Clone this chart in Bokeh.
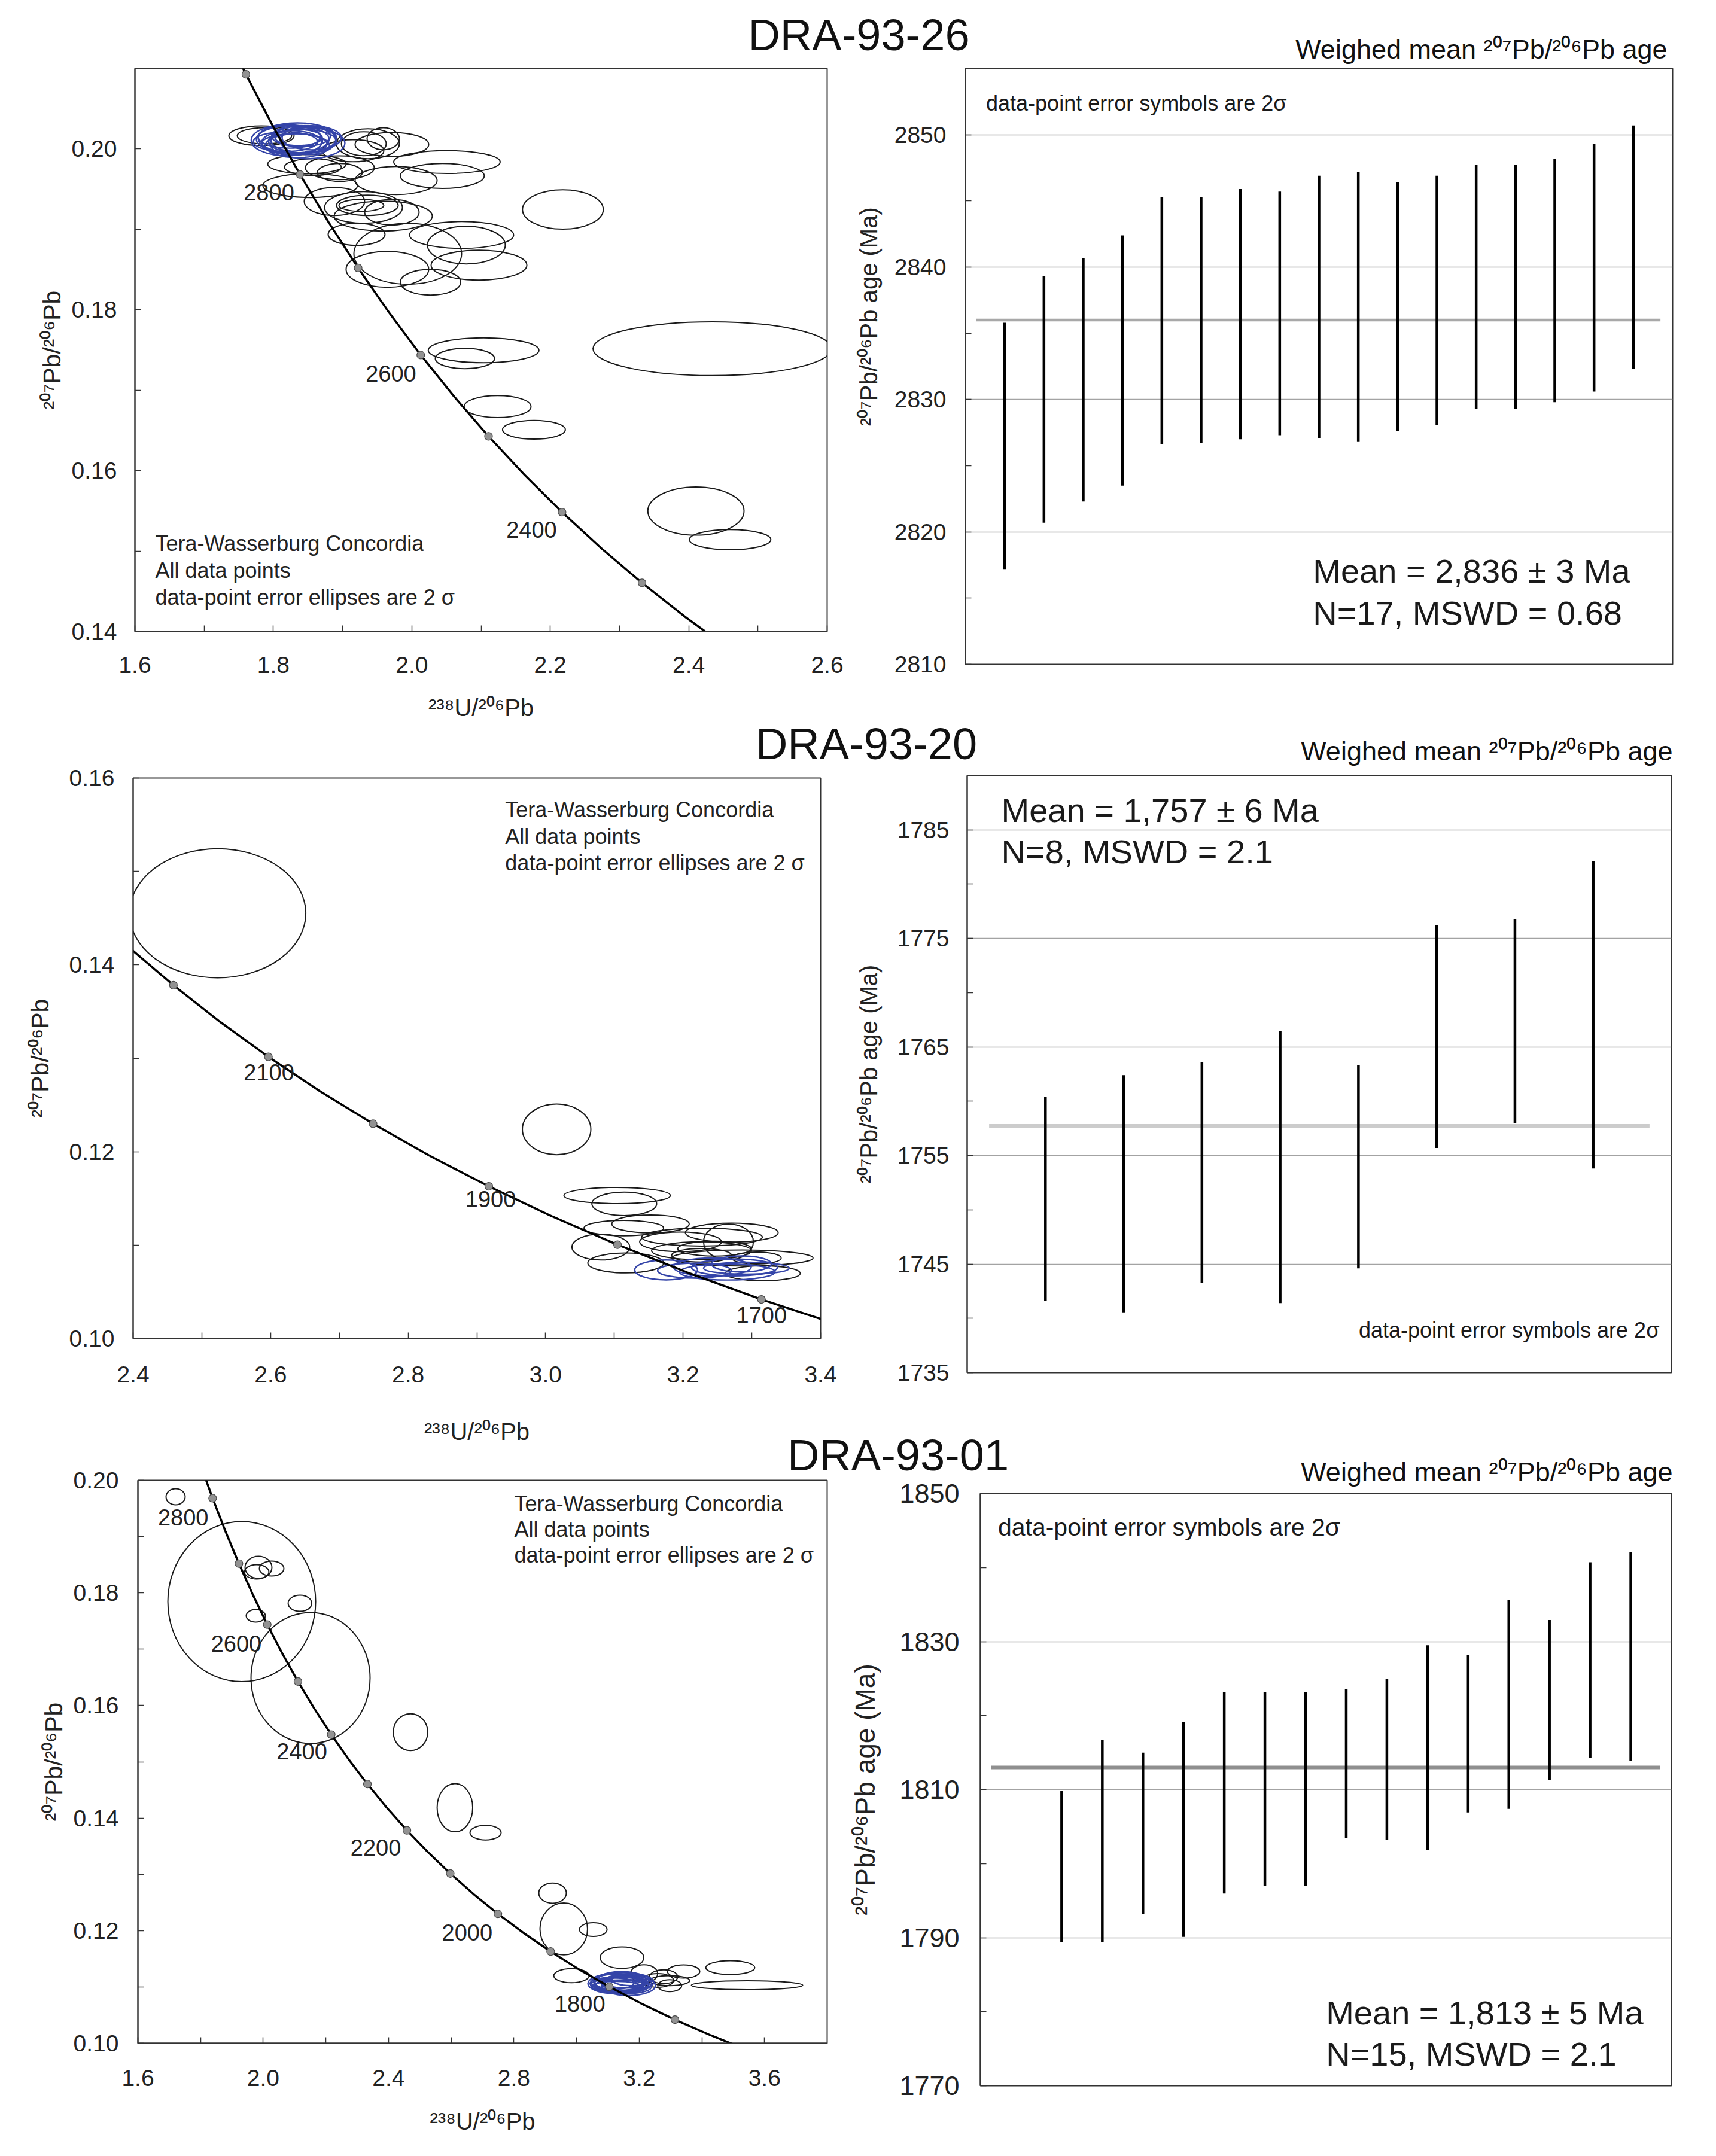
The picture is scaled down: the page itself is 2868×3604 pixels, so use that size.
from bokeh.plotting import figure
from bokeh.models import Range1d, FixedTicker, PrintfTickFormatter, Label
from bokeh.layouts import column, row
from bokeh.embed import file_html
from bokeh.resources import INLINE
from bokeh.core.properties import value

FONT = "Liberation Sans"
INK = "#1a1a1a"
BLUE = "#3444a8"

# ---------------- concordia curve ----------------
conc_age = [1600, 1650, 1700, 1750, 1800, 1850, 1900, 1950, 2000, 2050, 2100, 2150, 2200, 2250, 2300,
            2350, 2400, 2450, 2500, 2550, 2600, 2650, 2700, 2750, 2800, 2850, 2900, 2950, 3000]
conc_x = [3.5497, 3.4283, 3.3140, 3.2063, 3.1046, 3.0084, 2.9174, 2.8310, 2.7490, 2.6710, 2.5968, 2.5261,
          2.4586, 2.3941, 2.3325, 2.2735, 2.2170, 2.1628, 2.1108, 2.0609, 2.0129, 1.9668, 1.9224, 1.8796,
          1.8384, 1.7986, 1.7603, 1.7232, 1.6874]
conc_y = [0.09871, 0.10141, 0.10419, 0.10706, 0.11004, 0.11311, 0.11629, 0.11958, 0.12299, 0.12651,
          0.13015, 0.13392, 0.13782, 0.14186, 0.14604, 0.15036, 0.15483, 0.15947, 0.16426, 0.16923,
          0.17437, 0.17969, 0.18520, 0.19091, 0.19682, 0.20294, 0.20928, 0.21585, 0.22266]

# ---------------- DRA-93-26 concordia ----------------
p1_marker_ages = [2300, 2400, 2500, 2600, 2700, 2800, 2900]
p1_lab_text = ["2800", "2600", "2400"]
p1_lab_x = [1.7936, 1.9699, 2.173]
p1_lab_y = [0.19462, 0.17203, 0.15267]
p1_ex = [2.2182, 2.434, 2.1037, 2.0767, 2.1239, 2.1764, 2.4104, 2.4597,
         1.7828, 1.7871, 1.9366, 1.9306, 1.9712, 1.9587, 1.9150, 1.8485, 1.8571, 1.8960, 1.8532, 1.9773,
         1.8960, 1.8882, 1.9302, 1.9358, 1.9271, 1.9587, 1.9712, 1.9202, 1.9941, 2.0719, 2.0788, 2.0970,
         1.9647, 2.0270, 2.0507, 2.0440]
p1_ey = [0.19247, 0.17516, 0.17496, 0.17394, 0.16796, 0.16508, 0.15497, 0.15141,
         0.20164, 0.20164, 0.20064, 0.20064, 0.20056, 0.20127, 0.19978, 0.19811, 0.19774, 0.19766, 0.19544,
         0.19607, 0.19707, 0.19347, 0.19272, 0.19298, 0.19298, 0.19165, 0.19213, 0.18938, 0.18696, 0.18930,
         0.18804, 0.18555, 0.18503, 0.18343, 0.19837, 0.19664]
p1_ew = [0.1167, 0.3446, 0.1599, 0.0856, 0.0965, 0.0908, 0.1390, 0.1178,
         0.0942, 0.0787, 0.0908, 0.0648, 0.1063, 0.0467, 0.0890, 0.1132, 0.0821, 0.0994, 0.1366, 0.1184,
         0.0648, 0.0873, 0.1124, 0.0890, 0.0648, 0.1417, 0.0787, 0.0821, 0.1556, 0.1504, 0.1124, 0.1383,
         0.1193, 0.0873, 0.1538, 0.1213]
p1_eh = [0.0049, 0.00669, 0.0031, 0.00253, 0.00273, 0.00233, 0.0060, 0.0025,
         0.00245, 0.0020, 0.00372, 0.00297, 0.00297, 0.00275, 0.00275, 0.00238, 0.00208, 0.00297, 0.00297,
         0.00349, 0.00223, 0.00349, 0.00394, 0.00253, 0.00149, 0.00372, 0.0032, 0.00275, 0.00758, 0.00334,
         0.00468, 0.00372, 0.00446, 0.0032, 0.00285, 0.0031]
p1_bx = [1.8195, 1.8347, 1.8493, 1.8174, 1.8554, 1.8347, 1.8364, 1.8264, 1.8437,
         1.8280, 1.8420, 1.8230, 1.8500, 1.8300, 1.8400]
p1_by = [0.20108, 0.20134, 0.20071, 0.20090, 0.20138, 0.20041, 0.20142, 0.20079, 0.20116,
         0.20120, 0.20095, 0.20150, 0.20110, 0.20060, 0.20160]
p1_bw = [0.1029, 0.1132, 0.1080, 0.0925, 0.0856, 0.0925, 0.0683, 0.0864, 0.0951,
         0.1050, 0.0980, 0.0900, 0.0800, 0.0950, 0.0850]
p1_bh = [0.00386, 0.00379, 0.00386, 0.00245, 0.00297, 0.00297, 0.0020, 0.00297, 0.00334,
         0.0034, 0.0030, 0.0028, 0.0036, 0.0026, 0.0026]

# ---------------- DRA-93-20 concordia ----------------
p3_marker_ages = [1700, 1800, 1900, 2000, 2100, 2200]
p3_lab_text = ["2100", "1900", "1700"]
p3_lab_x = [2.5976, 2.9201, 3.3141]
p3_lab_y = [0.12847, 0.11491, 0.10251]
p3_ex = [2.5230, 3.0160, 3.1041, 3.1144, 3.1526, 3.1137, 3.0803, 3.1165, 3.2708, 3.2660, 3.2275, 3.1963,
         3.2268, 3.2860, 3.3066, 3.3160, 3.2457, 3.2268]
p3_ey = [0.14552, 0.12239, 0.11531, 0.11442, 0.11227, 0.11182, 0.10979, 0.10809, 0.11134, 0.11035, 0.11086,
         0.11035, 0.10939, 0.10862, 0.10862, 0.10698, 0.10962, 0.10891]
p3_ew = [0.2563, 0.0996, 0.1549, 0.0943, 0.1125, 0.1158, 0.0841, 0.1103, 0.1349, 0.0725, 0.1755, 0.1190,
         0.1453, 0.2060, 0.0722, 0.1088, 0.1070, 0.0870]
p3_eh = [0.01381, 0.00543, 0.00173, 0.00252, 0.00192, 0.00166, 0.00277, 0.00213, 0.00203, 0.00384, 0.00192,
         0.00211, 0.00192, 0.00171, 0.00128, 0.0016, 0.0016, 0.00147]
p3_bx = [3.1753, 3.2166, 3.2425, 3.2747, 3.2921, 3.2642, 3.2848]
p3_by = [0.10734, 0.10726, 0.10766, 0.10760, 0.10753, 0.10712, 0.10798]
p3_bw = [0.0914, 0.1073, 0.1131, 0.1247, 0.1247, 0.1393, 0.0870]
p3_bh = [0.00213, 0.0016, 0.00192, 0.0018, 0.00128, 0.00171, 0.00171]

# ---------------- DRA-93-01 concordia ----------------
p5_marker_ages = [1700, 1800, 1900, 2000, 2100, 2200, 2300, 2400, 2500, 2600, 2700, 2800]
p5_lab_text = ["2800", "2600", "2400", "2200", "2000", "1800"]
p5_lab_x = [1.7446, 1.9140, 2.1233, 2.3593, 2.6510, 3.0108]
p5_lab_y = [0.19337, 0.17100, 0.15184, 0.13470, 0.11961, 0.10704]
p5_ex = [1.7203, 1.9314, 2.1510, 1.9848, 2.0268, 1.9790, 2.1172, 1.9762, 2.4701, 2.6118, 2.7096, 2.9235,
         2.9592, 3.0534, 3.1451, 2.9837, 3.3418, 3.4907, 3.5442, 3.2157, 3.2590, 3.2973, 3.2973, 3.2780]
p5_ey = [0.19708, 0.17845, 0.16488, 0.18454, 0.18432, 0.18374, 0.17816, 0.17593, 0.15526, 0.14184, 0.13741,
         0.12667, 0.12030, 0.12019, 0.11520, 0.11200, 0.11275, 0.11344, 0.11031, 0.11236, 0.11116, 0.11112,
         0.11023, 0.11183]
p5_ew = [0.0611, 0.4717, 0.3800, 0.0859, 0.0783, 0.0783, 0.0754, 0.0611, 0.1100, 0.1135, 0.0993, 0.0879,
         0.1518, 0.0879, 0.1394, 0.1127, 0.1031, 0.1566, 0.3552, 0.0859, 0.1012, 0.1280, 0.0764, 0.0898]
p5_eh = [0.00287, 0.02843, 0.02327, 0.00393, 0.00266, 0.00255, 0.00287, 0.00223, 0.00653, 0.00857, 0.00261,
         0.00359, 0.00922, 0.00245, 0.00383, 0.0025, 0.00234, 0.00245, 0.0016, 0.00319, 0.00245, 0.00177,
         0.00213, 0.00245]
p5_bx = [3.1222, 3.1508, 3.1661, 3.1126, 3.1444, 3.1699, 3.1279, 3.1731, 3.1350, 3.1550, 3.1400, 3.1600,
         3.1300, 3.1480, 3.1580, 3.1200, 3.1380, 3.1620]
p5_by = [0.11059, 0.11086, 0.11023, 0.11063, 0.11130, 0.11006, 0.11010, 0.11130, 0.11045, 0.11060, 0.11100,
         0.11040, 0.11080, 0.11030, 0.11100, 0.11030, 0.11015, 0.11070]
p5_bw = [0.1719, 0.1910, 0.1719, 0.1394, 0.1528, 0.1394, 0.1585, 0.1203, 0.1600, 0.1500, 0.1700, 0.1400,
         0.1650, 0.1750, 0.1450, 0.1500, 0.1650, 0.1550]
p5_bh = [0.00354, 0.00337, 0.0035, 0.00213, 0.00287, 0.00245, 0.0018, 0.00213, 0.0028, 0.0025, 0.0032, 0.0030,
         0.0030, 0.0027, 0.0024, 0.0026, 0.0022, 0.0029]

# ---------------- weighted mean 207Pb/206Pb ages (2 sigma ranges, Ma) ----------------
p2_lo = [2817.2, 2820.7, 2822.3, 2823.5, 2826.6, 2826.7, 2827.0, 2827.3, 2827.1, 2826.8, 2827.6, 2828.1,
         2829.3, 2829.3, 2829.8, 2830.6, 2832.3]
p2_hi = [2835.8, 2839.3, 2840.7, 2842.4, 2845.3, 2845.3, 2845.9, 2845.7, 2846.9, 2847.2, 2846.4, 2846.9,
         2847.7, 2847.7, 2848.2, 2849.3, 2850.7]
p2_mean = 2836.0
p4_lo = [1741.6, 1740.55, 1743.3, 1741.4, 1744.6, 1755.7, 1758.0, 1753.8]
p4_hi = [1760.4, 1762.4, 1763.6, 1766.5, 1763.3, 1776.2, 1776.8, 1782.1]
p4_mean = 1757.7
p6_lo = [1789.4, 1789.4, 1793.2, 1790.1, 1795.95, 1797.0, 1797.0, 1803.5, 1803.2, 1801.8, 1806.9, 1807.4,
         1811.3, 1814.25, 1813.9]
p6_hi = [1809.8, 1816.7, 1815.0, 1819.1, 1823.2, 1823.2, 1823.2, 1823.55, 1824.9, 1829.5, 1828.2, 1835.6,
         1832.9, 1840.7, 1842.1]
p6_mean = 1813.0

XLAB = "²³⁸U/²⁰⁶Pb"
YLAB = "²⁰⁷Pb/²⁰⁶Pb"
AGELAB = "²⁰⁷Pb/²⁰⁶Pb age (Ma)"
HEADER = "Weighed mean ²⁰⁷Pb/²⁰⁶Pb age"
NOTE = ["Tera-Wasserburg Concordia", "All data points", "data-point error ellipses are 2 σ"]
SYM = "data-point error symbols are 2σ"


def base(width, height, xr, yr, borders, x_axis=True):
    mbl, mbr, mbt, mbb = borders
    p = figure(width=width, height=height, x_range=Range1d(*xr), y_range=Range1d(*yr),
               output_backend="svg", toolbar_location=None, title=None,
               x_axis_location="below" if x_axis else None,
               min_border_left=mbl, min_border_right=mbr, min_border_top=mbt, min_border_bottom=mbb)
    p.frame_align = False
    p.outline_line_color = "#333333"
    p.outline_line_width = 2
    p.border_fill_alpha = 0
    return p


def style_axis(ax, tick_size, lab_size, lab_standoff, axlab_standoff):
    ax.major_label_text_font = FONT
    ax.major_label_text_font_size = tick_size
    ax.major_label_text_color = "#222222"
    ax.axis_label_text_font = FONT
    ax.axis_label_text_font_size = lab_size
    ax.axis_label_text_font_style = "normal"
    ax.axis_label_text_color = "#222222"
    ax.major_label_standoff = lab_standoff
    ax.axis_label_standoff = axlab_standoff
    ax.major_tick_in = 10
    ax.major_tick_out = 0
    ax.minor_tick_in = 10
    ax.minor_tick_out = 0
    ax.axis_line_color = "#333333"
    ax.axis_line_width = 2
    ax.major_tick_line_color = "#333333"
    ax.major_tick_line_width = 1.5
    ax.minor_tick_line_color = "#333333"
    ax.minor_tick_line_width = 1.5


def concordia_panel(width, height, xr, yr, borders, xt, xmin, yt, ymin, xfmt, yfmt,
                    black, blue, marker_ages, labs, note_pos, stand):
    p = base(width, height, xr, yr, borders)
    p.grid.visible = False
    p.xaxis.ticker = FixedTicker(ticks=xt, minor_ticks=xmin)
    p.yaxis.ticker = FixedTicker(ticks=yt, minor_ticks=ymin)
    p.xaxis.formatter = PrintfTickFormatter(format=xfmt)
    p.yaxis.formatter = PrintfTickFormatter(format=yfmt)
    p.xaxis.axis_label = XLAB
    p.yaxis.axis_label = YLAB
    style_axis(p.xaxis[0], "39px", "40px", stand[0], stand[1])
    style_axis(p.yaxis[0], "39px", "41px", stand[2], stand[3])

    bx, by, bw, bh = black
    p.ellipse(x=bx, y=by, width=bw, height=bh, fill_color=None, line_color=INK, line_width=2)
    cx, cy, cw, ch = blue
    p.ellipse(x=cx, y=cy, width=cw, height=ch, fill_color=None, line_color=BLUE, line_width=2.4)
    p.line(conc_x, conc_y, line_color="black", line_width=3.5)
    mx = [conc_x[conc_age.index(a)] for a in marker_ages]
    my = [conc_y[conc_age.index(a)] for a in marker_ages]
    p.scatter(mx, my, marker="circle", size=13, fill_color="#929292", line_color="#4a4a4a", line_width=1.2)
    lt, lx, ly = labs
    p.text(x=lx, y=ly, text=lt, text_font=value(FONT), text_font_size="38px", text_color="#222222",
           text_align="center", text_baseline="middle")
    nx, ny = note_pos
    for t, yy in zip(NOTE, ny):
        p.add_layout(Label(x=nx, y=yy, text=t, text_font=FONT, text_font_size="36px",
                           text_color="#222222", text_align="left", text_baseline="middle"))
    return p


def mean_panel(width, height, xr, yr, borders, yt, ymin, lo, hi, mean, mean_span, mean_color, mean_w,
               tick_size, lab_size, stand, texts, ylabel_pad=0):
    p = base(width, height, xr, yr, borders, x_axis=False)
    p.xgrid.visible = False
    p.ygrid.grid_line_color = "#a3a3a3"
    p.ygrid.grid_line_width = 1.6
    p.yaxis.ticker = FixedTicker(ticks=yt, minor_ticks=ymin)
    p.yaxis.formatter = PrintfTickFormatter(format="%d")
    # leading no-break spaces lift the visible axis title above the frame centre, as in the original
    p.yaxis.axis_label = "\u00a0" * ylabel_pad + AGELAB
    style_axis(p.yaxis[0], tick_size, lab_size, stand[0], stand[1])
    xs = list(range(1, len(lo) + 1))
    p.line([1 - mean_span[0], len(lo) + mean_span[1]], [mean, mean], line_color=mean_color, line_width=mean_w)
    p.segment(x0=xs, y0=lo, x1=xs, y1=hi, line_color="black", line_width=4.5)
    for (x, y, t, size, align) in texts:
        p.add_layout(Label(x=x, y=y, text=t, text_font=FONT, text_font_size=size, text_color="#1a1a1a",
                           text_align=align, text_baseline="middle"))
    return p


def strip(width, height, items, margin=None):
    s = figure(width=width, height=height, x_range=Range1d(0, width), y_range=Range1d(0, height),
               output_backend="svg", toolbar_location=None, title=None,
               x_axis_location=None, y_axis_location=None, min_border=0)
    s.frame_align = False
    s.grid.visible = False
    s.outline_line_color = None
    s.background_fill_alpha = 0
    s.border_fill_alpha = 0
    for (x, y, t, size, align) in items:
        s.add_layout(Label(x=x, y=y, text=t, text_font=FONT, text_font_size=size, text_color="#111111",
                           text_align=align, text_baseline="middle"))
    if margin is not None:
        s.margin = margin
    return s


LW, RW = 1417, 1433

# ---- row 1
s1 = strip(LW + RW, 140, [(1435, 82, "DRA-93-26", "74px", "center"),
                          (2786, 58, HEADER, "45px", "right")], margin=(0, 0, -30, 0))
p1 = concordia_panel(LW, 1102, (1.6, 2.6), (0.14, 0.21), (225, 35, 4, 157),
                     [1.6, 1.8, 2.0, 2.2, 2.4, 2.6], [1.7, 1.9, 2.1, 2.3, 2.5],
                     [0.14, 0.16, 0.18, 0.20], [0.15, 0.17, 0.19], "%.1f", "%.2f",
                     (p1_ex, p1_ey, p1_ew, p1_eh), (p1_bx, p1_by, p1_bw, p1_bh), p1_marker_ages,
                     (p1_lab_text, p1_lab_x, p1_lab_y), (1.6294, [0.15092, 0.14758, 0.14427]),
                     (42, 33, 30, 7))
p2 = mean_panel(RW, 1102, (0, 18), (2810, 2855), (196, 55, 4, 102),
                [2810, 2820, 2830, 2840, 2850], [2815, 2825, 2835, 2845], p2_lo, p2_hi, p2_mean,
                (0.72, 0.69), "#a8a8a8", 4.5, "39px", "40px", (32, 18),
                [(0.526, 2852.36, SYM, "36px", "left"),
                 (8.844, 2817.07, "Mean = 2,836 ± 3 Ma", "56px", "left"),
                 (8.844, 2813.90, "N=17, MSWD = 0.68", "56px", "left")],
                ylabel_pad=15)

# ---- row 2
s2 = strip(LW + RW, 132, [(1447.5, 71, "DRA-93-20", "74px", "center"),
                          (2795, 59, HEADER, "45px", "right")], margin=(-30, 0, -52, 0))
p3 = concordia_panel(LW, 1160, (2.4, 3.4), (0.10, 0.16), (222, 46, 38, 185),
                     [2.4, 2.6, 2.8, 3.0, 3.2, 3.4], [2.5, 2.7, 2.9, 3.1, 3.3],
                     [0.10, 0.12, 0.14, 0.16], [0.11, 0.13, 0.15], "%.1f", "%.2f",
                     (p3_ex, p3_ey, p3_ew, p3_eh), (p3_bx, p3_by, p3_bw, p3_bh), p3_marker_ages,
                     (p3_lab_text, p3_lab_x, p3_lab_y), (2.9412, [0.15659, 0.15373, 0.15092]),
                     (46, 57, 31, 23))
p4 = mean_panel(RW, 1160, (0, 9), (1735, 1790), (199, 57, 34, 128),
                [1735, 1745, 1755, 1765, 1775, 1785], [1740, 1750, 1760, 1770, 1780], p4_lo, p4_hi, p4_mean,
                (0.72, 0.72), "#cccccc", 7, "39px", "40px", (30, 23),
                [(0.436, 1786.82, "Mean = 1,757 ± 6 Ma", "56px", "left"),
                 (0.436, 1783.02, "N=8, MSWD = 2.1", "56px", "left"),
                 (8.846, 1738.91, SYM, "36px", "right")])

# ---- row 3
s3 = strip(LW + RW, 110, [(1500.5, 60, "DRA-93-01", "74px", "center"),
                          (2795, 32, HEADER, "45px", "right")], margin=(-40, 0, -50, 0))
p5 = concordia_panel(LW, 1140, (1.6, 3.8), (0.10, 0.20), (230, 35, 32, 167),
                     [1.6, 2.0, 2.4, 2.8, 3.2, 3.6], [1.8, 2.2, 2.6, 3.0, 3.4],
                     [0.10, 0.12, 0.14, 0.16, 0.18, 0.20], [0.11, 0.13, 0.15, 0.17, 0.19], "%.1f", "%.2f",
                     (p5_ex, p5_ey, p5_ew, p5_eh), (p5_bx, p5_by, p5_bw, p5_bh), p5_marker_ages,
                     (p5_lab_text, p5_lab_x, p5_lab_y), (2.8013, [0.19590, 0.19133, 0.18668]),
                     (44, 34, 32, 7))
p6 = mean_panel(RW, 1140, (-1, 16), (1770, 1850), (217, 57, 54, 96),
                [1770, 1790, 1810, 1830, 1850], [1780, 1800, 1820, 1840], p6_lo, p6_hi, p6_mean,
                (1.73, 0.72), "#8f8f8f", 6, "45px", "46px", (35, 28),
                [(-0.567, 1845.45, SYM, "41px", "left"),
                 (7.503, 1779.89, "Mean = 1,813 ± 5 Ma", "56px", "left"),
                 (7.503, 1774.31, "N=15, MSWD = 2.1", "56px", "left")])

layout = column(s1, row(p1, p2), s2, row(p3, p4), s3, row(p5, p6))

open("out.html", "w").write(file_html(layout, INLINE))
